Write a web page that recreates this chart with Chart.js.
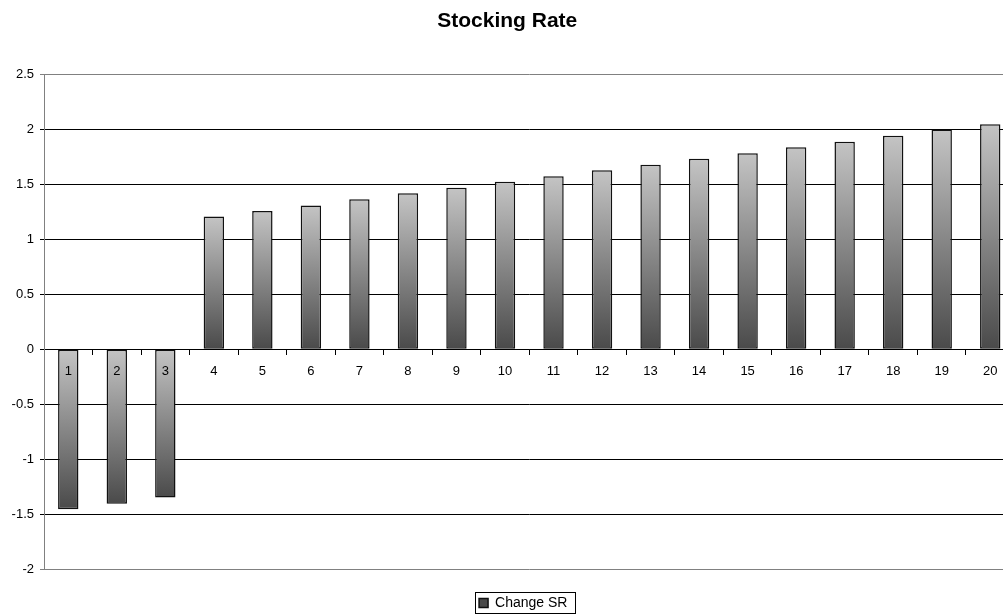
<!DOCTYPE html>
<html>
<head>
<meta charset="utf-8">
<script src="https://cdn.jsdelivr.net/npm/chart.js@4"></script>
<style>
    html, body { margin: 0; padding: 0; background: #fff; overflow: hidden; }
    #wrap { width: 1003px; height: 615px; overflow: hidden; }
</style>
</head>
<body>
<div id="wrap"><canvas id="srChart" width="1022" height="620"></canvas></div>
<script>
// chart values
const periods = ['1', '2', '3', '4', '5', '6', '7', '8', '9', '10',
                 '11', '12', '13', '14', '15', '16', '17', '18', '19', '20'];
const changeSR = [-1.455, -1.405, -1.35, 1.21, 1.26, 1.31, 1.365, 1.42, 1.47, 1.525,
                  1.575, 1.63, 1.68, 1.735, 1.785, 1.84, 1.89, 1.945, 2.0, 2.05];
const yMin = -2;
const yMax = 2.5;
const yStep = 0.5;

Chart.defaults.font.family = '"Liberation Sans", Arial, sans-serif';
Chart.defaults.color = '#000';

// light at the top of each bar, dark at its bottom
function barGradient(context) {
    const chart = context.chart;
    if (context.type !== 'data' || !chart.chartArea) return '#8c8c8c';
    const y = chart.scales.y;
    const p0 = y.getPixelForValue(0);
    const p1 = y.getPixelForValue(context.raw);
    const g = chart.ctx.createLinearGradient(0, Math.min(p0, p1), 0, Math.max(p0, p1));
    g.addColorStop(0, '#c4c4c4');
    g.addColorStop(1, '#4a4a4a');
    return g;
}

// framed legend, a little right of centre like the original
const legendFrame = {
    id: 'legendFrame',
    afterLayout(chart) {
        chart.legend.left += 16;
        chart.legend.right += 16;
    },
    afterDraw(chart) {
        const hb = chart.legend.legendHitBoxes && chart.legend.legendHitBoxes[0];
        if (!hb) return;
        const ctx = chart.ctx;
        ctx.save();
        ctx.strokeStyle = '#000';
        ctx.lineWidth = 1;
        ctx.strokeRect(Math.round(hb.left - 4) + 0.5, Math.round(hb.top - 4) + 0.5,
                       Math.round(hb.width + 12), Math.round(hb.height + 7));
        ctx.restore();
    }
};

new Chart(document.getElementById('srChart'), {
    type: 'bar',
    data: {
        labels: periods,
        datasets: [{
            label: 'Change SR',
            data: changeSR,
            backgroundColor: barGradient,
            borderColor: '#111',
            borderWidth: 1.5,
            borderSkipped: false,
            categoryPercentage: 1,
            barPercentage: 0.42
        }]
    },
    options: {
        responsive: false,
        animation: false,
        layout: { padding: { left: 0, right: 7.5, top: 0, bottom: 0 } },
        plugins: {
            title: {
                display: true,
                text: 'Stocking Rate',
                color: '#000',
                font: { size: 21, weight: 'bold' },
                padding: { top: 8.6, bottom: 40.9 }
            },
            legend: {
                position: 'bottom',
                labels: {
                    boxWidth: 9,
                    boxHeight: 9,
                    padding: 27,
                    color: '#000',
                    font: { size: 14 }
                }
            },
            tooltip: { enabled: false }
        },
        scales: {
            x: {
                position: { y: 0 },
                grid: { offset: true, drawOnChartArea: false, drawTicks: true, tickLength: 5, color: '#000' },
                border: { display: true, color: '#000' },
                ticks: { z: 1, padding: 9, color: '#000', font: { size: 13 }, maxRotation: 0 }
            },
            y: {
                min: yMin,
                max: yMax,
                afterFit: s => { s.width = 44; },
                ticks: {
                    stepSize: yStep,
                    padding: 6,
                    color: '#000',
                    font: { size: 13 },
                    callback: v => String(Math.round(v * 10) / 10)
                },
                grid: {
                    color: c => (c.tick && (c.tick.value === yMax || c.tick.value === yMin)) ? '#808080' : '#000',
                    tickLength: 4
                },
                border: { color: '#808080' }
            }
        }
    },
    plugins: [legendFrame]
});
</script>
</body>
</html>
